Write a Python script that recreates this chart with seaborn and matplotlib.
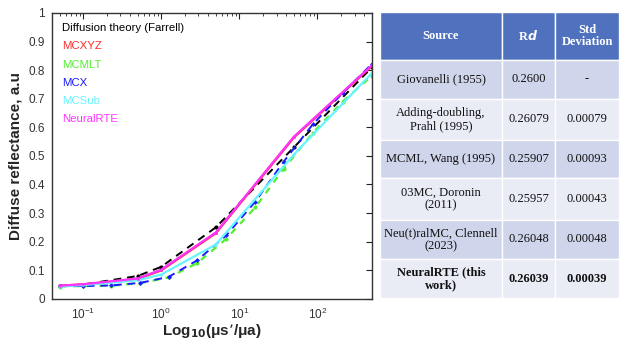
#!/usr/bin/env python3
"""Diffuse reflectance vs log10(mus'/mua) for several MC codes, plus Rd comparison table."""
import numpy as np
import pandas as pd
import seaborn as sns
import matplotlib.pyplot as plt
from matplotlib.patches import Rectangle
from matplotlib.ticker import LogLocator, NullFormatter

# ---- curve data ----
x_coarse = [0.05, 0.1, 0.5, 1, 5, 50, 500]
x_fine = [0.05, 0.1, 0.23, 0.54, 1.25, 2.9, 6.8, 16, 37, 87, 210, 500]

diffusion = [0.045, 0.050, 0.080, 0.112, 0.250, 0.530, 0.810]
mcxyz = [0.046, 0.050, 0.070, 0.100, 0.230, 0.565, 0.815]
mcsub = [0.043, 0.048, 0.065, 0.085, 0.190, 0.505, 0.790]
neuralrte = [0.046, 0.051, 0.071, 0.102, 0.232, 0.567, 0.817]
mcmlt = [0.043, 0.045, 0.046, 0.055, 0.075, 0.125, 0.210, 0.320, 0.455, 0.580, 0.690, 0.780]
mcx = [0.045, 0.045, 0.047, 0.056, 0.077, 0.135, 0.222, 0.340, 0.480, 0.610, 0.720, 0.822]

series_names = ["Diffusion theory (Farrell)", "MCXYZ", "MCMLT", "MCX", "MCSub", "NeuralRTE"]
series_colors = ["#000000", "#ff2a2a", "#55ee33", "#1a1aff", "#66f5ff", "#ff33ff"]

# ---- table data ----
col_labels = ["Source", "Rd", "Std\nDeviation"]
sources = ["Giovanelli (1955)", "Adding-doubling,\nPrahl (1995)", "MCML, Wang (1995)",
           "03MC, Doronin\n(2011)", "Neu(t)ralMC, Clennell\n(2023)", "NeuralRTE (this\nwork)"]
rd_values = ["0.2600", "0.26079", "0.25907", "0.25957", "0.26048", "0.26039"]
std_values = ["-", "0.00079", "0.00093", "0.00043", "0.00048", "0.00039"]

sns.set_style("white")
plt.rcParams['font.family'] = ['Liberation Sans', 'DejaVu Sans']

fig = plt.figure(figsize=(6.19, 3.40), dpi=100)
ax = fig.add_axes([0.084, 0.121, 0.517, 0.841])

styles = {
    "Diffusion theory (Farrell)": dict(x=x_coarse, y=diffusion, ls=(0, (4, 3)), marker="o", lw=1.4, ms=3),
    "MCXYZ": dict(x=x_coarse, y=mcxyz, ls="-", marker="o", lw=1.8, ms=2),
    "MCMLT": dict(x=x_fine, y=mcmlt, ls=(0, (3, 3)), marker="o", lw=1.6, ms=3),
    "MCX": dict(x=x_fine, y=mcx, ls=(0, (4, 3)), marker="D", lw=1.4, ms=2.5),
    "MCSub": dict(x=x_coarse, y=mcsub, ls="-", marker="o", lw=1.6, ms=2),
    "NeuralRTE": dict(x=x_coarse, y=neuralrte, ls="-", marker="o", lw=1.6, ms=2),
}

for name, color in zip(series_names, series_colors):
    s = styles[name]
    df = pd.DataFrame({"x": s["x"], "y": s["y"]})
    sns.lineplot(data=df, x="x", y="y", ax=ax, color=color, linestyle=s["ls"],
                 linewidth=s["lw"], marker=s["marker"], markersize=s["ms"],
                 markeredgewidth=0, label=name)

ax.set_xscale("log")
ax.set_xlim(0.04, 500)
ax.set_ylim(0, 1)
ax.set_yticks(np.arange(0, 1.01, 0.1))
ax.set_yticklabels(["0", "0.1", "0.2", "0.3", "0.4", "0.5", "0.6", "0.7", "0.8", "0.9", "1"])
ax.xaxis.set_major_locator(LogLocator(base=10, numticks=10))
ax.xaxis.set_minor_locator(LogLocator(base=10, subs=np.arange(2, 10), numticks=20))
ax.xaxis.set_minor_formatter(NullFormatter())
ax.tick_params(which="both", direction="in", top=True, right=True, labelsize=8.5, colors="#222222")
ax.tick_params(which="major", length=4, width=0.8)
ax.tick_params(which="minor", length=2, width=0.6)
ax.tick_params(axis="both", labelcolor="#333333", pad=5)
ax.tick_params(axis="x", pad=6)
for sp in ax.spines.values():
    sp.set_color("#333333")
    sp.set_linewidth(1.0)

ax.set_xlabel("Log$_{\\mathbf{10}}$(μs’/μa)", fontsize=11, fontweight="bold", labelpad=0)
ax.set_ylabel("Diffuse reflectance, a.u", fontsize=11, fontweight="bold", labelpad=4)

leg = ax.legend(loc="upper left", frameon=False, handlelength=0, handletextpad=0,
                fontsize=8.2, labelspacing=0.72, borderaxespad=0.5)
for txt, color in zip(leg.get_texts(), series_colors):
    txt.set_color(color)
for h in leg.legend_handles:
    h.set_visible(False)

# ---- table on the right ----
tax = fig.add_axes([380 / 619, 0.0, 239 / 619, 1.0])
tax.set_xlim(380, 619)
tax.set_ylim(340, 0)
tax.axis("off")

col_edges = [380, 502, 555, 619]
row_edges = [12, 60, 99, 140, 178, 220, 259, 298]
header_color = "#4f71be"
row_colors = ["#cfd5ea", "#e9ebf5"]
serif = ['Liberation Serif', 'DejaVu Serif']

rows = [col_labels] + [list(r) for r in zip(sources, rd_values, std_values)]
for i, row in enumerate(rows):
    y0, y1 = row_edges[i], row_edges[i + 1]
    for j, text in enumerate(row):
        x0, x1 = col_edges[j], col_edges[j + 1]
        fc = header_color if i == 0 else row_colors[(i - 1) % 2]
        tax.add_patch(Rectangle((x0, y0), x1 - x0, y1 - y0, facecolor=fc,
                                edgecolor="white", linewidth=1.0))
        bold = i == 0 or i == len(rows) - 1
        color = "white" if i == 0 else "#111111"
        if i == 0 and j == 1:
            text = "R$\\mathbfit{d}$"
        tax.text((x0 + x1) / 2, (y0 + y1) / 2, text, ha="center", va="center",
                 family=serif, fontsize=9, color=color,
                 fontweight="bold" if bold else "normal", linespacing=1.1)

fig.savefig("out.png", dpi=100)
